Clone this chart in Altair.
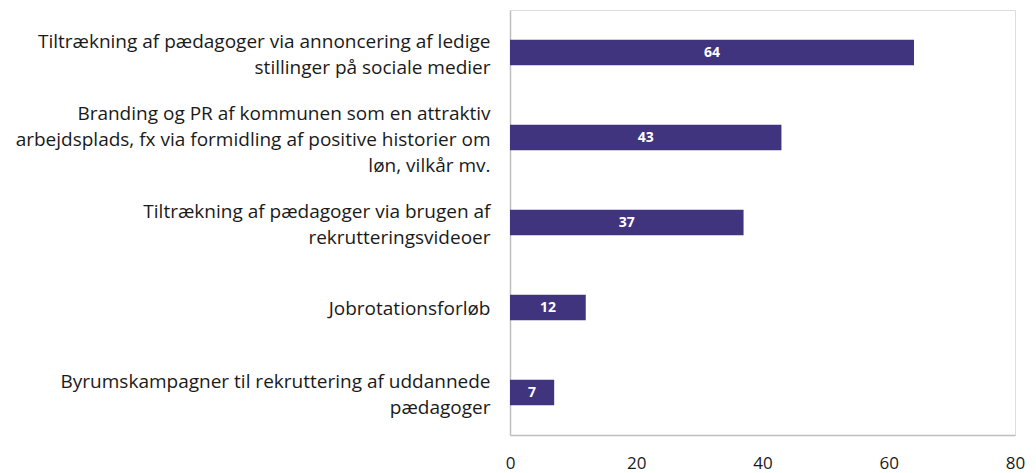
import altair as alt
import pandas as pd

categories = [
    "Tiltrækning af pædagoger via annoncering af ledige\nstillinger på sociale medier",
    "Branding og PR af kommunen som en attraktiv\narbejdsplads, fx via formidling af positive historier om\nløn, vilkår mv.",
    "Tiltrækning af pædagoger via brugen af\nrekrutteringsvideoer",
    "Jobrotationsforløb",
    "Byrumskampagner til rekruttering af uddannede\npædagoger",
]
values = [64, 43, 37, 12, 7]
x_ticks = [0, 20, 40, 60, 80]

df = pd.DataFrame({"category": categories, "value": values})

FONT = "Open Sans"
BAR_COLOR = "#41347f"
LINE_H = 26

base = alt.Chart(df).encode(
    y=alt.Y(
        "category:N",
        sort=categories,
        scale=alt.Scale(paddingInner=0.7, paddingOuter=0.35),
        axis=alt.Axis(
            title=None,
            labelExpr="split(datum.label, '\\n')",
            labelFont=FONT,
            labelFontSize=19,
            labelLineHeight=LINE_H,
            labelColor="#1a1a1a",
            labelPadding=20,
            labelLimit=540,
            labelOffset={
                "condition": [
                    {"test": "length(split(datum.value, '\\n')) == 3", "value": 2 - LINE_H},
                    {"test": "length(split(datum.value, '\\n')) == 2", "value": 2 - LINE_H / 2},
                ],
                "value": 1,
            },
            ticks=False,
            domain=True,
            domainColor="#bfbfbf",
            domainWidth=1.5,
            grid=False,
        ),
    )
)

bars = base.mark_bar(color=BAR_COLOR).encode(
    x=alt.X(
        "value:Q",
        scale=alt.Scale(domain=[0, 80], nice=False),
        axis=alt.Axis(
            title=None,
            values=x_ticks,
            labelFont=FONT,
            labelFontSize=17,
            labelColor="#1a1a1a",
            labelPadding=20,
            ticks=False,
            grid=False,
            domain=True,
            domainColor="#bfbfbf",
            domainWidth=1.5,
            labelFlush=False,
        ),
    )
)

labels = base.transform_calculate(mid="datum.value / 2").mark_text(
    color="white", font=FONT, fontSize=14, fontWeight="bold", baseline="middle", align="center"
).encode(
    x=alt.X("mid:Q"),
    text=alt.Text("value:Q"),
)

chart = (
    alt.layer(bars, labels)
    .properties(
        width=505,
        height=425,
        autosize=alt.AutoSizeParams(type="none"),
        padding={"left": 502, "top": 2, "right": 13, "bottom": 40},
    )
    .configure_view(stroke=None)
    .configure(background="white")
)

chart.save("out.html", embed_options={"renderer": "svg", "actions": False})
